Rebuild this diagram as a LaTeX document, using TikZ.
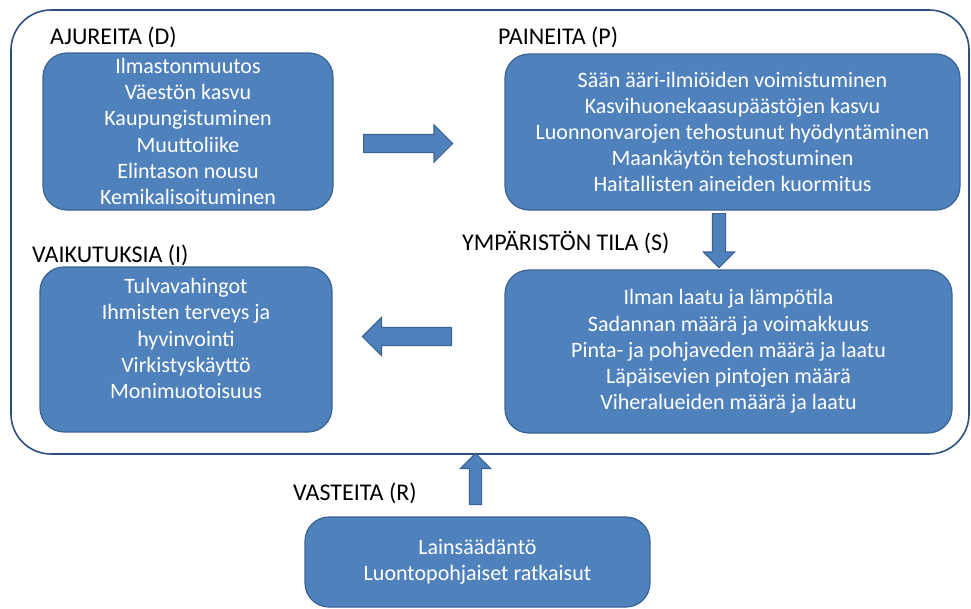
\documentclass[tikz,border=0pt]{standalone}
\usepackage{fontspec}
\setmainfont{Carlito}
\usetikzlibrary{shapes.arrows}
\definecolor{boxblue}{HTML}{4F81BD}
\definecolor{boxline}{HTML}{3A6394}
\definecolor{frameline}{HTML}{2B4F7E}
\tikzset{
	box/.style={draw=boxline, line width=1.2pt, fill=boxblue, rounded corners=24pt, text=white, align=center, inner sep=0pt, font=\fontsize{22}{26.2}\selectfont},
	heading/.style={anchor=base west, inner sep=0pt, font=\fontsize{24}{28}\selectfont},
	blockarrow/.style={single arrow, draw=boxline, line width=1.2pt, fill=boxblue, single arrow tip angle=90}
}
\begin{document}
\begin{tikzpicture}[x=1pt,y=-1pt]
			\useasboundingbox (0,0) rectangle (971,608);
			\node[draw=frameline, line width=1.6pt, rounded corners=40pt, minimum width=958pt, minimum height=444pt] (frame) at (490,232) {};
			%
			\node[box, minimum width=290pt, minimum height=157pt] (drivers)  at (188,131.5)	{Ilmastonmuutos\\Väestön kasvu\\Kaupungistuminen\\Muuttoliike\\Elintason nousu\\Kemikalisoituminen};
			\node[box, minimum width=455pt, minimum height=156pt] (pressures) at (732.5,132)	{Sään ääri-ilmiöiden voimistuminen\\Kasvihuonekaasupäästöjen kasvu\\Luonnonvarojen tehostunut hyödyntäminen\\Maankäytön tehostuminen\\Haitallisten aineiden kuormitus};
			\node[box, minimum width=447pt, minimum height=163pt] (state)  at (728.5,351.5)	{Ilman laatu ja lämpötila\\Sadannan määrä ja voimakkuus\\Pinta- ja pohjaveden määrä ja laatu\\Läpäisevien pintojen määrä\\Viheralueiden määrä ja laatu};
			\node[box, minimum width=292pt, minimum height=165pt] (impacts)  at (186,349.5)	{Tulvavahingot\\Ihmisten terveys ja\\hyvinvointi\\Virkistyskäyttö\\Monimuotoisuus\\[-4pt]\mbox{}};
			\node[box, minimum width=345pt, minimum height=90pt] (responses)  at (477.5,562)	{Lainsäädäntö\\Luontopohjaiset ratkaisut};
			%
			\node[heading] (drivers-lbl)   at (50,44)	{AJUREITA (D)};
			\node[heading] (pressures-lbl) at (498,44)	{PAINEITA (P)};
			\node[heading] (state-lbl)     at (462,250)	{YMPÄRISTÖN TILA (S)};
			\node[heading] (impacts-lbl)   at (32,262)	{VAIKUTUKSIA (I)};
			\node[heading] (responses-lbl) at (293,500)	{VASTEITA (R)};
			%
			\def\arrows {a1/363/143.5/0/89/36/17, a2/719/213/270/54/30/12, a3/452/336.5/180/89/37/17, a4/475.5/505/90/51/29/11}  % tail, direction, length, head width, shaft width
			\foreach \name/\x/\y/\dir/\len/\wd/\sh in \arrows
			{	\pgfmathsetmacro\ext{(\wd-\sh)/2}
				\node[blockarrow, anchor=tail, shape border rotate=\dir, minimum height=\len pt, minimum width=\wd pt, inner sep=\sh pt/2, single arrow head extend=\ext pt] (\name) at (\x,\y) {};
			}
			%
\end{tikzpicture}
\end{document}
